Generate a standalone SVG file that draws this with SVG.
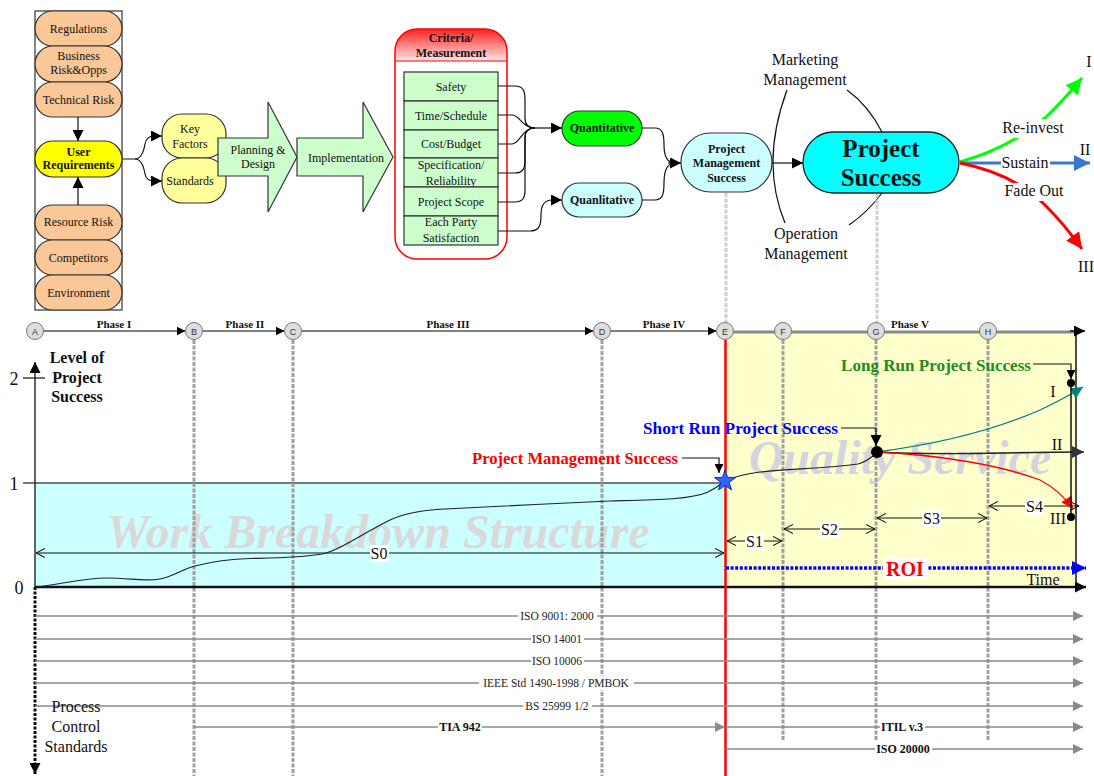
<svg xmlns="http://www.w3.org/2000/svg" width="1094" height="776" viewBox="0 0 1094 776">
<style>
  text { font-family: 'Liberation Serif', 'Times New Roman', serif; fill: #111; }
  .n12 { font-size: 12px; text-anchor: middle; }
  .b12 { font-size: 12px; font-weight: bold; text-anchor: middle; }
  .n16 { font-size: 16px; text-anchor: middle; }
  .b16 { font-size: 16px; font-weight: bold; }
  .ph { font-size: 11px; font-weight: bold; text-anchor: middle; }
  .cl { font-family: 'Liberation Sans', Arial, sans-serif; font-size: 9px; text-anchor: middle; fill: #333; }
  .std { font-size: 11.5px; text-anchor: middle; fill: #222; }
  .stdb { font-size: 12px; font-weight: bold; text-anchor: middle; fill: #111; }
  .orange { fill: #FAC898; stroke: #333; stroke-width: 1.2; }
  .pale { fill: #FFFF99; stroke: #333; stroke-width: 1.2; }
  .mint { fill: #CCFFCC; stroke: #333; stroke-width: 1.2; }
  .ice { fill: #CCFFFF; stroke: #333; stroke-width: 1.2; }
  .conn { fill: none; stroke: #111; stroke-width: 1.2; }
  .vdash { stroke: #A0A0A0; stroke-width: 3; stroke-dasharray: 4 1.5; fill: none; }
  .vlight { stroke: #CFCFCF; stroke-width: 3; stroke-dasharray: 4 1.5; fill: none; }
  .stdline { stroke: #8A8A8A; stroke-width: 1.5; fill: none; }
  .dim { stroke: #111; stroke-width: 1; fill: none; }
  .wm { font-size: 48px; font-weight: bold; font-style: italic; text-anchor: middle; }
</style>
<defs>
  <marker id="ah" viewBox="0 0 10 10" refX="10" refY="5" markerUnits="userSpaceOnUse" markerWidth="11" markerHeight="11" orient="auto">
    <path d="M0,0 L10,5 L0,10 z" fill="#000"/>
  </marker>
  <marker id="ahs" viewBox="0 0 10 10" refX="10" refY="5" markerUnits="userSpaceOnUse" markerWidth="9" markerHeight="9" orient="auto">
    <path d="M0,0 L10,5 L0,10 z" fill="#000"/>
  </marker>
  <marker id="ahd" viewBox="0 0 10 10" refX="10" refY="5" markerUnits="userSpaceOnUse" markerWidth="13" markerHeight="12" orient="auto">
    <path d="M0,0 L10,5 L0,10 z" fill="#333"/>
  </marker>
  <marker id="open" viewBox="0 0 10 10" refX="10" refY="5" markerUnits="userSpaceOnUse" markerWidth="9" markerHeight="10" orient="auto-start-reverse">
    <path d="M0,0 L10,5 L0,10" fill="none" stroke="#111" stroke-width="1.2"/>
  </marker>
  <marker id="ahg" viewBox="0 0 10 10" refX="10" refY="5" markerUnits="userSpaceOnUse" markerWidth="10" markerHeight="10" orient="auto">
    <path d="M0,0 L10,5 L0,10 z" fill="#8A8A8A"/>
  </marker>
  <marker id="ahb" viewBox="0 0 10 10" refX="10" refY="5" markerUnits="userSpaceOnUse" markerWidth="14" markerHeight="14" orient="auto">
    <path d="M0,0 L10,5 L0,10 z" fill="#0000FF"/>
  </marker>
  <marker id="aht" viewBox="0 0 10 10" refX="10" refY="5" markerUnits="userSpaceOnUse" markerWidth="13" markerHeight="12" orient="auto">
    <path d="M0,0 L10,5 L0,10 z" fill="#008080"/>
  </marker>
  <marker id="ahr" viewBox="0 0 10 10" refX="10" refY="5" markerUnits="userSpaceOnUse" markerWidth="13" markerHeight="12" orient="auto">
    <path d="M0,0 L10,5 L0,10 z" fill="#FF0000"/>
  </marker>
  <marker id="ahR" viewBox="0 0 10 10" refX="10" refY="5" markerUnits="userSpaceOnUse" markerWidth="18" markerHeight="16" orient="auto">
    <path d="M0,0 L10,5 L0,10 z" fill="#FF0000"/>
  </marker>
  <marker id="ahG" viewBox="0 0 10 10" refX="10" refY="5" markerUnits="userSpaceOnUse" markerWidth="18" markerHeight="16" orient="auto">
    <path d="M0,0 L10,5 L0,10 z" fill="#00FF00"/>
  </marker>
  <marker id="ahS" viewBox="0 0 10 10" refX="10" refY="5" markerUnits="userSpaceOnUse" markerWidth="18" markerHeight="16" orient="auto">
    <path d="M0,0 L10,5 L0,10 z" fill="#3A78D0"/>
  </marker>
  <linearGradient id="hdr" x1="0" y1="0" x2="0" y2="1">
    <stop offset="0" stop-color="#FF2020"/>
    <stop offset="1" stop-color="#FFE6E6"/>
  </linearGradient>
  <clipPath id="critClip">
    <rect x="395" y="29" width="112" height="230" rx="22"/>
  </clipPath>
</defs>

<rect width="1094" height="776" fill="#fff"/>

<!-- ===== Upper flow ===== -->
<rect id="riskFrame" x="35" y="11" width="87" height="299" fill="none" stroke="#333" stroke-width="1.2"/>

<g id="regulations"><rect class="orange" x="35" y="11" width="87" height="35" rx="17.5"/><text class="n12" x="78.5" y="33">Regulations</text></g>
<g id="business-risk"><rect class="orange" x="35" y="46" width="87" height="36" rx="18"/><text class="n12" x="78.5" y="60">Business</text><text class="n12" x="78.5" y="74">Risk&amp;Opps</text></g>
<g id="technical-risk"><rect class="orange" x="35" y="82" width="87" height="35" rx="17.5"/><text class="n12" x="78.5" y="103.5">Technical Risk</text></g>
<g id="user-requirements"><rect x="35" y="141" width="87" height="36" rx="18" fill="#FFFF00" stroke="#333" stroke-width="1.2"/><text class="b12" x="78.5" y="156">User</text><text class="b12" x="78.5" y="169">Requirements</text></g>
<g id="resource-risk"><rect class="orange" x="35" y="205" width="87" height="35" rx="17.5"/><text class="n12" x="78.5" y="226">Resource Risk</text></g>
<g id="competitors"><rect class="orange" x="35" y="240" width="87" height="35" rx="17.5"/><text class="n12" x="78.5" y="261.5">Competitors</text></g>
<g id="environment"><rect class="orange" x="35" y="275" width="87" height="35" rx="17.5"/><text class="n12" x="78.5" y="296.5">Environment</text></g>

<g id="key-factors"><rect class="pale" x="162" y="114" width="64" height="44" rx="20"/><text class="n12" x="190" y="133">Key</text><text class="n12" x="190" y="148">Factors</text></g>
<g id="standards"><rect class="pale" x="162" y="158" width="64" height="45" rx="20"/><text class="n12" x="190" y="185">Standards</text></g>

<g id="planning-design"><polygon class="mint" points="218,138 268,138 268,102 297,157 268,212 268,176 218,176"/><text class="n12" x="258" y="154">Planning &amp;</text><text class="n12" x="258" y="168">Design</text></g>
<g id="implementation"><polygon class="mint" points="297,138 363,138 363,102 393,157 363,212 363,176 297,176"/><text class="n12" x="346" y="162">Implementation</text></g>

<g id="criteria">
  <rect x="395" y="29" width="112" height="230" rx="22" fill="#fff"/>
  <rect x="395" y="29" width="112" height="32" fill="url(#hdr)" clip-path="url(#critClip)"/>
  <line x1="395" y1="61" x2="507" y2="61" stroke="#FF0000" stroke-width="1.2"/>
  <rect x="395" y="29" width="112" height="230" rx="22" fill="none" stroke="#FF0000" stroke-width="1.5"/>
  <text class="b12" x="451" y="42">Criteria/</text>
  <text class="b12" x="451" y="57">Measurement</text>
</g>
<g id="safety"><rect class="mint" x="404" y="72" width="94" height="29"/><text class="n12" x="451" y="91">Safety</text></g>
<g id="time-schedule"><rect class="mint" x="404" y="101" width="94" height="29"/><text class="n12" x="451" y="120">Time/Schedule</text></g>
<g id="cost-budget"><rect class="mint" x="404" y="130" width="94" height="28"/><text class="n12" x="451" y="148">Cost/Budget</text></g>
<g id="specification"><rect class="mint" x="404" y="158" width="94" height="29"/><text class="n12" x="451" y="169">Specification/</text><text class="n12" x="451" y="185">Reliability</text></g>
<g id="project-scope"><rect class="mint" x="404" y="187" width="94" height="29"/><text class="n12" x="451" y="206">Project Scope</text></g>
<g id="party-satisfaction"><rect class="mint" x="404" y="216" width="94" height="29"/><text class="n12" x="451" y="226">Each Party</text><text class="n12" x="451" y="242">Satisfaction</text></g>

<g id="quantitative"><rect x="562" y="111" width="80" height="35" rx="17.5" fill="#00FF00" stroke="#333" stroke-width="1.2"/><text class="b12" x="602" y="132">Quantitative</text></g>
<g id="qualitative"><rect class="ice" x="562" y="183" width="80" height="34" rx="17"/><text class="b12" x="602" y="204">Quanlitative</text></g>

<g id="pm-success"><rect class="ice" x="681" y="133" width="91" height="59" rx="29.5"/>
  <text class="b12" x="726.5" y="153">Project</text>
  <text class="b12" x="726.5" y="167">Management</text>
  <text class="b12" x="726.5" y="182">Success</text></g>

<g id="project-success"><rect x="803" y="132" width="156" height="61" rx="30.5" fill="#00FFFF" stroke="#222" stroke-width="1.3"/>
  <text x="881" y="157" style="font-size:25px;font-weight:bold;text-anchor:middle">Project</text>
  <text x="881" y="186" style="font-size:25px;font-weight:bold;text-anchor:middle">Success</text></g>

<g id="management-labels">
  <text class="n16" x="805" y="65">Marketing</text>
  <text class="n16" x="805" y="85">Management</text>
  <text class="n16" x="806" y="239">Operation</text>
  <text class="n16" x="806" y="259">Management</text>
  <path class="conn" d="M787,90 Q760,163 785,223"/>
  <path class="conn" d="M847,90 Q868,105 882,132"/>
  <path class="conn" d="M882,193 Q868,212 849,225"/>
</g>

<g id="outcomes">
  <path d="M960,162 C995,152 1025,135 1045,118 C1060,104 1072,90 1082,78" fill="none" stroke="#00FF00" stroke-width="3" marker-end="url(#ahG)"/>
  <line x1="960" y1="163" x2="1090" y2="163" stroke="#3A78D0" stroke-width="3" marker-end="url(#ahS)"/>
  <path d="M960,163 C995,170 1025,185 1045,205 C1060,220 1072,235 1082,249" fill="none" stroke="#FF0000" stroke-width="3" marker-end="url(#ahR)"/>
  <rect x="1002" y="119" width="63" height="19" fill="#fff"/>
  <rect x="1001" y="155" width="49" height="17" fill="#fff"/>
  <rect x="1003" y="183" width="62" height="18" fill="#fff"/>
  <text class="n16" x="1033" y="133">Re-invest</text>
  <text class="n16" x="1025" y="168">Sustain</text>
  <text class="n16" x="1034" y="196">Fade Out</text>
  <text class="n16" x="1089" y="67">I</text>
  <text class="n16" x="1085" y="155">II</text>
  <text class="n16" x="1086" y="272">III</text>
</g>

<g id="flow-connectors">
  <line class="conn" x1="78" y1="117" x2="78" y2="141" marker-end="url(#ah)"/>
  <line class="conn" x1="78" y1="205" x2="78" y2="177" marker-end="url(#ah)"/>
  <path class="conn" d="M122,159 H135 C142,159 144,150 145,144 C146,138 150,136 154,136 H162" marker-end="url(#ah)"/>
  <path class="conn" d="M135,159 C142,159 144,168 145,174 C146,179 150,181 154,181 H162" marker-end="url(#ah)"/>
  <path class="conn" d="M498,86 H515 C524,86 525,92 525,100 V118 C525,125 528,128 535,128"/>
  <path class="conn" d="M498,115 H512 C520,115 522,128 535,128"/>
  <path class="conn" d="M498,144 H512 C520,144 522,128 535,128"/>
  <path class="conn" d="M498,173 H515 C524,173 525,167 525,160 V138 C525,131 528,128 535,128"/>
  <path class="conn" d="M498,202 H515 C524,202 525,196 525,190 V138 C525,131 528,128 535,128"/>
  <line class="conn" x1="535" y1="128" x2="562" y2="128" marker-end="url(#ah)"/>
  <path class="conn" d="M498,231 H530 C540,231 541,224 541,215 C541,205 545,200 552,200 H562" marker-end="url(#ah)"/>
  <path class="conn" d="M642,128 H655 C663,128 664,135 664,145 C664,158 668,163 675,163"/>
  <path class="conn" d="M642,200 H655 C663,200 664,193 664,183 C664,170 668,163 675,163"/>
  <line class="conn" x1="668" y1="163" x2="681" y2="163" marker-end="url(#ah)"/>
  <line class="conn" x1="772" y1="163" x2="803" y2="163" marker-end="url(#ah)"/>
  <line class="vlight" x1="726" y1="193" x2="726" y2="322"/>
  <line class="vlight" x1="877" y1="194" x2="877" y2="322"/>
</g>

<!-- ===== Timeline chart ===== -->
<g id="regions">
  <rect x="35" y="483" width="690" height="104" fill="#CCFFFF"/>
  <line x1="23" y1="483" x2="725" y2="483" stroke="#777" stroke-width="2"/>
  <rect x="725" y="334" width="351" height="253" fill="#FFFFCC"/>
  <line x1="1076" y1="331" x2="1076" y2="587" stroke="#111" stroke-width="1.5"/>
</g>

<g id="watermarks">
  <text class="wm" x="378" y="548" style="fill:#D9D9D9">Work Breakdown Structure</text>
  <text class="wm" x="900" y="474" style="fill:#D4D4DE">Quality Service</text>
</g>

<g id="grid">
  <line class="vdash" x1="194" y1="340" x2="194" y2="776"/>
  <line class="vdash" x1="293" y1="340" x2="293" y2="776"/>
  <line class="vdash" x1="602" y1="340" x2="602" y2="776"/>
  <line class="vdash" x1="783" y1="340" x2="783" y2="740"/>
  <line class="vdash" x1="876" y1="340" x2="876" y2="740"/>
  <line class="vdash" x1="988" y1="340" x2="988" y2="740"/>
</g>

<g id="axes">
  <line x1="35" y1="587" x2="35" y2="362" stroke="#111" stroke-width="1.3" marker-end="url(#ah)"/>
  <line x1="23" y1="378" x2="45" y2="378" stroke="#111" stroke-width="1.2"/>
  <line x1="35" y1="587" x2="35" y2="774" stroke="#111" stroke-width="3" stroke-dasharray="3 1.5" marker-end="url(#ah)"/>
  <line x1="35" y1="587" x2="1086" y2="587" stroke="#111" stroke-width="2.5" marker-end="url(#ah)"/>
  <text x="14" y="385" style="font-size:18px;text-anchor:middle">2</text>
  <text x="14" y="490" style="font-size:18px;text-anchor:middle">1</text>
  <text x="19" y="594" style="font-size:18px;text-anchor:middle">0</text>
  <text class="b16" x="77" y="363" text-anchor="middle">Level of</text>
  <text class="b16" x="77" y="383" text-anchor="middle">Project</text>
  <text class="b16" x="77" y="402" text-anchor="middle">Success</text>
  <text class="n16" x="1043" y="585">Time</text>
</g>

<g id="phase-line">
  <line x1="43.5" y1="331" x2="185.5" y2="331" stroke="#555" stroke-width="1.5" marker-end="url(#ahs)"/>
  <line x1="202.5" y1="331" x2="284.5" y2="331" stroke="#555" stroke-width="1.5" marker-end="url(#ahs)"/>
  <line x1="301.5" y1="331" x2="593.5" y2="331" stroke="#555" stroke-width="1.5" marker-end="url(#ahs)"/>
  <line x1="610.5" y1="331" x2="716.5" y2="331" stroke="#555" stroke-width="1.5" marker-end="url(#ahs)"/>
  <line x1="725" y1="332" x2="1074" y2="332" stroke="#888" stroke-width="3"/>
  <line x1="1070" y1="331" x2="1085" y2="331" stroke="#111" stroke-width="1.5" marker-end="url(#ah)"/>
  <text class="ph" x="114" y="328">Phase I</text>
  <text class="ph" x="245" y="328">Phase II</text>
  <text class="ph" x="448" y="328">Phase III</text>
  <text class="ph" x="664" y="328">Phase IV</text>
  <text class="ph" x="910" y="328">Phase V</text>
</g>

<g id="milestone-A"><circle cx="35" cy="331" r="8.5" fill="#DDD" stroke="#777"/><text class="cl" x="35" y="334.5">A</text></g>
<g id="milestone-B"><circle cx="194" cy="331" r="8.5" fill="#DDD" stroke="#777"/><text class="cl" x="194" y="334.5">B</text></g>
<g id="milestone-C"><circle cx="293" cy="331" r="8.5" fill="#DDD" stroke="#777"/><text class="cl" x="293" y="334.5">C</text></g>
<g id="milestone-D"><circle cx="602" cy="331" r="8.5" fill="#DDD" stroke="#777"/><text class="cl" x="602" y="334.5">D</text></g>
<g id="milestone-E"><circle cx="725" cy="331" r="8.5" fill="#DDD" stroke="#777"/><text class="cl" x="725" y="334.5">E</text></g>
<g id="milestone-F"><circle cx="783" cy="331" r="8.5" fill="#DDD" stroke="#777"/><text class="cl" x="783" y="334.5">F</text></g>
<g id="milestone-G"><circle cx="876" cy="331" r="8.5" fill="#DDD" stroke="#777"/><text class="cl" x="876" y="334.5">G</text></g>
<g id="milestone-H"><circle cx="988" cy="331" r="8.5" fill="#DDD" stroke="#777"/><text class="cl" x="988" y="334.5">H</text></g>

<!-- handover line at milestone E -->
<line id="handover" x1="725.5" y1="340" x2="725.5" y2="776" stroke="#FF0000" stroke-width="2.5"/>

<g id="spans">
  <line class="dim" x1="36" y1="553" x2="724" y2="553" marker-start="url(#open)" marker-end="url(#open)"/>
  <line class="dim" x1="727" y1="541" x2="782" y2="541" marker-start="url(#open)" marker-end="url(#open)"/>
  <line class="dim" x1="784" y1="529" x2="875" y2="529" marker-start="url(#open)" marker-end="url(#open)"/>
  <line class="dim" x1="877" y1="518" x2="987" y2="518" marker-start="url(#open)" marker-end="url(#open)"/>
  <line class="dim" x1="989" y1="506" x2="1079" y2="506" marker-start="url(#open)" marker-end="url(#open)"/>
  <rect x="370" y="545" width="19" height="17" fill="#fff"/>
  <rect x="745" y="533" width="19" height="17" fill="#fff"/>
  <rect x="820" y="521" width="19" height="17" fill="#fff"/>
  <rect x="922" y="510" width="19" height="17" fill="#fff"/>
  <rect x="1025" y="498" width="19" height="17" fill="#fff"/>
  <text class="n16" x="379" y="558.5">S0</text>
  <text class="n16" x="754.5" y="546.5">S1</text>
  <text class="n16" x="829.5" y="534.5">S2</text>
  <text class="n16" x="931.5" y="523.5">S3</text>
  <text class="n16" x="1034.5" y="511.5">S4</text>
</g>

<g id="roi">
  <line x1="726" y1="568" x2="1086" y2="568" stroke="#0000FF" stroke-width="3.5" stroke-dasharray="3 1.6" marker-end="url(#ahb)"/>
  <rect x="883" y="557" width="45" height="23" fill="#fff"/>
  <text x="905" y="575.5" style="font-size:20px;font-weight:bold;fill:#FF0000;text-anchor:middle">ROI</text>
</g>

<g id="success-curve">
  <path d="M35,587 C60,585 80,578 107,578 C130,578 145,582 160,579 C175,576 182,569 195,566 C210,562 225,559 250,558.5 C275,558 300,558 322,554 C340,550 360,535 390,520 C405,513 420,510 445,509 C490,507 560,503 610,501 C650,500 690,500 708,492 C716,488 720,485 725,481 C735,476 745,474 760,472 C790,469 830,468 858,464 C866,462 872,457 877,453" fill="none" stroke="#222" stroke-width="1.2"/>
  <path d="M877,452 C930,445 990,432 1040,410 C1055,403 1070,395 1083,387" fill="none" stroke="#008080" stroke-width="1.3" marker-end="url(#aht)"/>
  <path d="M877,452 C950,456 1000,452 1084,452" fill="none" stroke="#222" stroke-width="1.3" marker-end="url(#ahd)"/>
  <path d="M877,452 C940,455 1000,465 1040,480 C1055,488 1065,497 1073,509" fill="none" stroke="#FF0000" stroke-width="1.3" marker-end="url(#ahr)"/>
  <polygon points="725,470 727.6,477.4 735.5,477.6 729.2,482.4 731.5,489.9 725,485.4 718.5,489.9 720.8,482.4 714.5,477.6 722.4,477.4" fill="#3366FF" stroke="#0033CC" stroke-width="1"/>
  <circle cx="877" cy="452" r="6" fill="#000"/>
  <line x1="1071" y1="383" x2="1071" y2="517" stroke="#111" stroke-width="1.5"/>
  <circle cx="1071" cy="383" r="4" fill="#000"/>
  <circle cx="1071" cy="517" r="4" fill="#000"/>
  <text class="n16" x="1053" y="397">I</text>
  <text class="n16" x="1057" y="450">II</text>
  <text class="n16" x="1058" y="524">III</text>
</g>

<g id="callouts">
  <text class="b16" x="472" y="464" textLength="206" lengthAdjust="spacingAndGlyphs" style="fill:#FF0000">Project Management Success</text>
  <polyline class="conn" points="682,458 719,458 719,473" marker-end="url(#ahs)"/>
  <text class="b16" x="643" y="434" textLength="195" lengthAdjust="spacingAndGlyphs" style="fill:#0000FF">Short Run Project  Success</text>
  <polyline class="conn" points="841,428 876,428 876,446" marker-end="url(#ah)"/>
  <text class="b16" x="841" y="371" textLength="190" lengthAdjust="spacingAndGlyphs" style="fill:#228B22">Long Run Project  Success</text>
  <polyline class="conn" points="1033,364 1071,364 1071,379" marker-end="url(#ahs)"/>
</g>

<g id="process-standards">
  <line class="stdline" x1="35" y1="616" x2="1083" y2="616" marker-end="url(#ahg)"/>
  <line class="stdline" x1="35" y1="639" x2="1083" y2="639" marker-end="url(#ahg)"/>
  <line class="stdline" x1="35" y1="661" x2="1083" y2="661" marker-end="url(#ahg)"/>
  <line class="stdline" x1="35" y1="683" x2="1083" y2="683" marker-end="url(#ahg)"/>
  <line class="stdline" x1="35" y1="706" x2="1083" y2="706" marker-end="url(#ahg)"/>
  <line class="stdline" x1="194" y1="727" x2="725" y2="727" marker-end="url(#ahg)"/>
  <line class="stdline" x1="726" y1="727" x2="1083" y2="727" marker-end="url(#ahg)"/>
  <line class="stdline" x1="726" y1="749" x2="1083" y2="749" marker-end="url(#ahg)"/>
  <rect x="518" y="609" width="79" height="14" fill="#fff"/>
  <rect x="531" y="632" width="53" height="14" fill="#fff"/>
  <rect x="531" y="654" width="53" height="14" fill="#fff"/>
  <rect x="479" y="676" width="155" height="14" fill="#fff"/>
  <rect x="523" y="699" width="69" height="14" fill="#fff"/>
  <rect x="438" y="720" width="44" height="14" fill="#fff"/>
  <rect x="880" y="720" width="45" height="14" fill="#fff"/>
  <rect x="875" y="742" width="57" height="14" fill="#fff"/>
  <text class="std" x="557" y="620">ISO 9001: 2000</text>
  <text class="std" x="557" y="643">ISO 14001</text>
  <text class="std" x="557" y="665">ISO 10006</text>
  <text class="std" x="556" y="687">IEEE Std 1490-1998 / PMBOK</text>
  <text class="std" x="557" y="710">BS 25999 1/2</text>
  <text class="stdb" x="460" y="731">TIA 942</text>
  <text class="stdb" x="902" y="731">ITIL v.3</text>
  <text class="stdb" x="903" y="753">ISO  20000</text>
  <text class="n16" x="76" y="712">Process</text>
  <text class="n16" x="76" y="732">Control</text>
  <text class="n16" x="76" y="752">Standards</text>
</g>
</svg>
